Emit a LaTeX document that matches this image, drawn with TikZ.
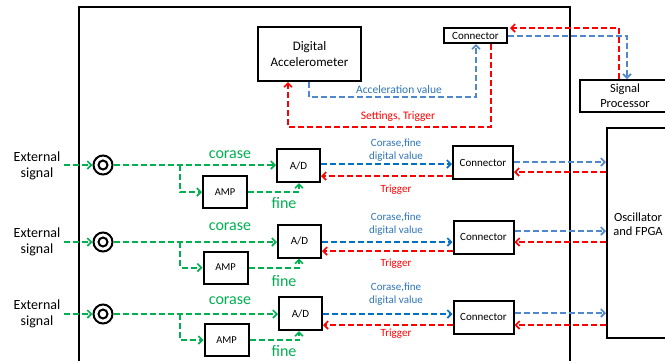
\documentclass[tikz,border=0pt]{standalone}
\usepackage{fontspec}
\setmainfont{Carlito}
\usetikzlibrary{arrows.meta}
\definecolor{gr}{HTML}{00B050}
\definecolor{bl}{HTML}{0070C0}
\definecolor{blr}{HTML}{4F88CC}
\definecolor{bltxt}{HTML}{2E75B6}
\definecolor{rd}{HTML}{FF0000}
\tikzset{
  box/.style={draw, line width=2pt, inner sep=0pt, align=center},
  ln/.style={dash pattern=on 6pt off 3pt, line width=2pt},
  tip/.style={-{Straight Barb[length=4pt,width=8pt,line width=1.6pt]}},
  gline/.style={ln, gr},
  bline/.style={ln, bl},
  bliner/.style={ln, blr},
  rline/.style={ln, rd},
  ext/.style={font=\fontsize{14}{16}\selectfont, align=center},
  gtxt/.style={text=gr, font=\fontsize{16}{18}\selectfont},
  btxt/.style={text=bltxt, font=\fontsize{11}{13.5}\selectfont, align=center},
  rtxt/.style={text=rd, font=\fontsize{11}{13}\selectfont},
}
\begin{document}
\begin{tikzpicture}[x=1pt,y=-1pt]
\useasboundingbox (0,0) rectangle (665,360);
\clip (0,0) rectangle (665,360);
% main box
\node[box, minimum width=491pt, minimum height=400pt] (main) at (324.5,207) {};
% top
\node[box, minimum width=103pt, minimum height=54pt, font=\fontsize{13}{16}\selectfont] (acc) at (309.5,54) {Digital\\Accelerometer};
\node[box, minimum width=63pt, minimum height=15pt, font=\fontsize{11}{12}\selectfont] (tc) at (475.5,35.5) {Connector};
\node[box, minimum width=90pt, minimum height=32pt, font=\fontsize{12.5}{15}\selectfont] (sp) at (625,96) {Signal\\Processor};
\node[box, minimum width=62pt, minimum height=210pt] (osc) at (638,233) {};
\node[font=\fontsize{12.5}{14}\selectfont, align=center] (osct) at (638,224) {Oscillator\\and FPGA};

\coordinate (accB) at (309,97);
\coordinate (tcB) at (476,97);
\coordinate (tcR) at (491,127);
\coordinate (accR) at (288,127);
\coordinate (spR) at (619,28);
\coordinate (spB) at (627,35.5);
\draw[bliner, tip] (acc.south -| accB) -- (accB) -- (tcB) -- (tc.south -| tcB);
\draw[rline, tip] (tc.south -| tcR) -- (tcR) -- (accR) -- (acc.south -| accR);
\node[btxt, font=\fontsize{11.5}{13}\selectfont] (lacc) at (399,90) {Acceleration value};
\node[rtxt, font=\fontsize{11.5}{13}\selectfont] (lset) at (398,117) {Settings, Trigger};
\draw[rline, tip] (sp.north -| spR) -- (spR) -- ([xshift=2pt]tc.east |- spR);
\draw[bliner, tip] (tc.east) -- (spB) -- (sp.north -| spB);

% rows
\foreach \i/\gy/\adx/\ady/\ampx/\ampy/\cnx/\cny/\bl/\rl/\br/\rr/\ey/\cy/\fy/\dy in {
  1/165/298.5/165.5/225/192/483/162.5/164/176/162/172/166/155/203/150,
  2/242/299.5/241/225.5/267.5/483.5/237/242/251/231/242/242/227/281/224,
  3/314/300.5/313.5/226.5/340/483.5/317/314/325/313/325/314/301/351/294}{
  \node[ext] (es\i) at (37,\ey) {External\\signal};
  \node[draw, circle, line width=2pt, minimum size=19pt, inner sep=0pt] (jk\i) at (103,\gy) {};
  \node[draw, circle, line width=2pt, minimum size=9pt, inner sep=0pt] (jki\i) at (103,\gy) {};
  \node[box, minimum width=43pt, minimum height=33pt, font=\fontsize{11}{13}\selectfont] (ad\i) at (\adx,\ady) {A/D};
  \node[box, minimum width=44pt, minimum height=32pt, font=\fontsize{10.5}{13}\selectfont] (amp\i) at (\ampx,\ampy) {AMP};
  \node[box, minimum width=60pt, minimum height=33pt, font=\fontsize{11}{13}\selectfont] (cn\i) at (\cnx,\cny) {Connector};
  \coordinate (g\i) at (0,\gy);
  \coordinate (br\i) at (180,\gy);
  \coordinate (fa\i) at (299,\ampy);
  \coordinate (lb\i) at (0,\bl);
  \coordinate (lr\i) at (0,\rl);
  \coordinate (rb\i) at (0,\br);
  \coordinate (rr\i) at (0,\rr);
  \draw[gline, tip] (es\i.east |- g\i) -- (jk\i.west);
  \draw[gline, tip] (jk\i.east) -- (ad\i.west |- g\i);
  \draw[gline, tip] (br\i) |- (amp\i.west);
  \draw[gline, tip] (amp\i.east) -- (fa\i) -- (ad\i.south -| fa\i);
  \node[gtxt] (co\i) at (230,\cy) {corase};
  \node[gtxt] (fi\i) at (284,\fy) {fine};
  \draw[bline, tip] (ad\i.east |- lb\i) -- (cn\i.west |- lb\i);
  \draw[rline, tip] (cn\i.west |- lr\i) -- (ad\i.east |- lr\i);
  \draw[bliner, tip] (cn\i.east |- rb\i) -- (osc.west |- rb\i);
  \draw[rline, tip] (osc.west |- rr\i) -- (cn\i.east |- rr\i);
  \node[btxt] (dv\i) at (396,\dy) {Corase,fine\\digital value};
  \node[rtxt] (tr\i) at (396,\dy+40) {Trigger};
}
\end{tikzpicture}
\end{document}
